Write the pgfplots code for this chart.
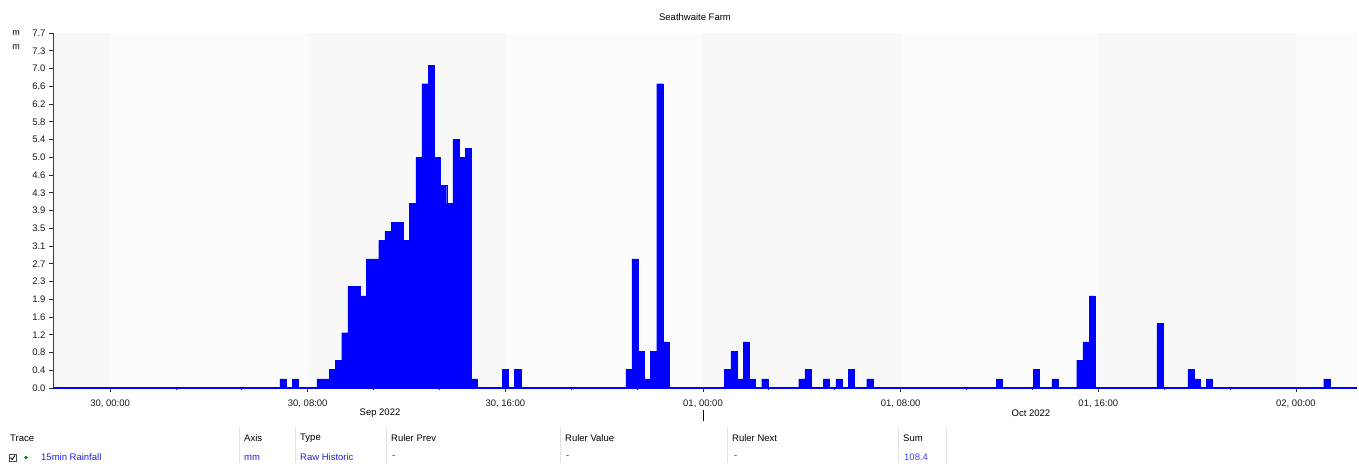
\documentclass[border=0pt]{standalone}
\usepackage{fontspec}
\setmainfont{Liberation Sans}
\usepackage{pgfplots}
\usepackage{pgfplotstable}
\pgfplotsset{compat=1.18}
\definecolor{barblue}{HTML}{0000FF}
\definecolor{bandA}{HTML}{F8F8F8}
\definecolor{bandB}{HTML}{FCFCFC}
\definecolor{linkblue}{HTML}{2020DD}
\definecolor{sepgray}{HTML}{E2E2E2}

\pgfplotstableread{
x y
7.00 0.2
7.50 0.2
8.50 0.2
8.75 0.2
9.00 0.4
9.25 0.6
9.50 1.2
9.75 2.2
10.00 2.2
10.25 2.0
10.50 2.8
10.75 2.8
11.00 3.2
11.25 3.4
11.50 3.6
11.75 3.6
12.00 3.2
12.25 4.0
12.50 5.0
12.75 6.6
13.00 7.0
13.25 5.0
13.50 4.4
13.75 4.0
14.00 5.4
14.25 5.0
14.50 5.2
14.75 0.2
16.00 0.4
16.50 0.4
21.00 0.4
21.25 2.8
21.50 0.8
21.75 0.2
22.00 0.8
22.25 6.6
22.50 1.0
25.00 0.4
25.25 0.8
25.50 0.2
25.75 1.0
26.00 0.2
26.50 0.2
28.00 0.2
28.25 0.4
29.00 0.2
29.50 0.2
30.00 0.4
30.75 0.2
36.00 0.2
37.50 0.4
38.25 0.2
39.25 0.6
39.50 1.0
39.75 2.0
42.50 1.4
43.75 0.4
44.00 0.2
44.50 0.2
49.25 0.2
}\rainfall

\begin{document}
\begin{tikzpicture}[x=1pt,y=1pt]
\useasboundingbox (0,0) rectangle (1359,463);
\fill[white] (0,0) rectangle (1359,463);
\begin{axis}[
  at={(53pt,75pt)}, anchor=south west,
  scale only axis, width=1304pt, height=355pt,
  xmin=-2.31, xmax=50.47, ymin=0, ymax=7.7,
  axis lines=left, axis line style={-},
  x axis line style={draw=barblue, line width=1.6pt},
  y axis line style={draw=black!75, line width=0.8pt},
  axis on top,
  xtick={0,8,16,24,32,40,48},
  xticklabels={{30, 00:00},{30, 08:00},{30, 16:00},{01, 00:00},{01, 08:00},{01, 16:00},{02, 00:00}},
  minor xtick={2.6667,5.3333,10.6667,13.3333,18.6667,21.3333,26.6667,29.3333,34.6667,37.3333,42.6667,45.3333},
  ytick={0,0.385,0.77,1.155,1.54,1.925,2.31,2.695,3.08,3.465,3.85,4.235,4.62,5.005,5.39,5.775,6.16,6.545,6.93,7.315,7.7},
  yticklabels={0.0,0.4,0.8,1.2,1.6,1.9,2.3,2.7,3.1,3.5,3.9,4.3,4.6,5.0,5.4,5.8,6.2,6.6,7.0,7.3,7.7},
  tick align=outside, major tick length=4pt, minor tick length=2.5pt,
  tick style={black!80, line width=0.8pt},
  ticklabel style={font=\fontsize{9.5}{10}\selectfont, text=black!90},
  xticklabel style={yshift=-4.5pt},
]
\fill[bandA] (axis cs:-2.31,0) rectangle (axis cs:0,7.7);
\fill[bandB] (axis cs:0,0) rectangle (axis cs:8,7.7);
\fill[bandA] (axis cs:8,0) rectangle (axis cs:16,7.7);
\fill[bandB] (axis cs:16,0) rectangle (axis cs:24,7.7);
\fill[bandA] (axis cs:24,0) rectangle (axis cs:32,7.7);
\fill[bandB] (axis cs:32,0) rectangle (axis cs:40,7.7);
\fill[bandA] (axis cs:40,0) rectangle (axis cs:48,7.7);
\fill[bandB] (axis cs:48,0) rectangle (axis cs:50.47,7.7);
\addplot[ybar, bar width=0.25, fill=barblue, draw=barblue, line width=0.3pt] table[x=x,y=y] {\rainfall};
\end{axis}
% title and axis unit
\node[font=\fontsize{9.5}{11}\selectfont] at (695,446) {Seathwaite Farm};
\node[font=\fontsize{9}{10}\selectfont] at (16,430) {m};
\node[font=\fontsize{9}{10}\selectfont] at (16,416) {m};
% month labels and ruler mark
\node[font=\fontsize{9.5}{11}\selectfont] at (380,49.5) {Sep 2022};
\node[font=\fontsize{9.5}{11}\selectfont] at (1031,49.5) {Oct 2022};
\draw[black, line width=0.8pt] (703.5,42) -- (703.5,53);
% table separators
\foreach \sx in {239,295.5,386.5,560,727.5,898.5,946}{
  \draw[sepgray, line width=0.8pt] (\sx,0) -- (\sx,36);
}
% header
\begin{scope}[every node/.style={font=\fontsize{9.5}{11}\selectfont, anchor=west, inner sep=0pt}]
\node at (10,25) {Trace};
\node at (244,25) {Axis};
\node at (300,25) {Type};
\node at (391,25) {Ruler Prev};
\node at (565,25) {Ruler Value};
\node at (732,25) {Ruler Next};
\node at (903,25) {Sum};
\node[text=linkblue] at (41,5.5) {15min Rainfall};
\node[text=linkblue] at (244,5.5) {mm};
\node[text=linkblue] at (300,5.5) {Raw Historic};
\node[text=linkblue] at (392,5.5) {-};
\node[text=linkblue] at (566,5.5) {-};
\node[text=linkblue] at (734,5.5) {-};
\node[text=blue!75!white] at (904,5.5) {108.4};
\end{scope}
% checkbox and marker
\draw[black!70, line width=0.7pt] (9,1.5) rectangle (16.5,9);
\draw[black, line width=0.9pt] (10.6,5.4) -- (12.2,3.4) -- (15,7.6);
\fill[green!55!black] (26,7.5) -- (27.8,5.5) -- (26,3.5) -- (24.2,5.5) -- cycle;
\end{tikzpicture}
\end{document}
